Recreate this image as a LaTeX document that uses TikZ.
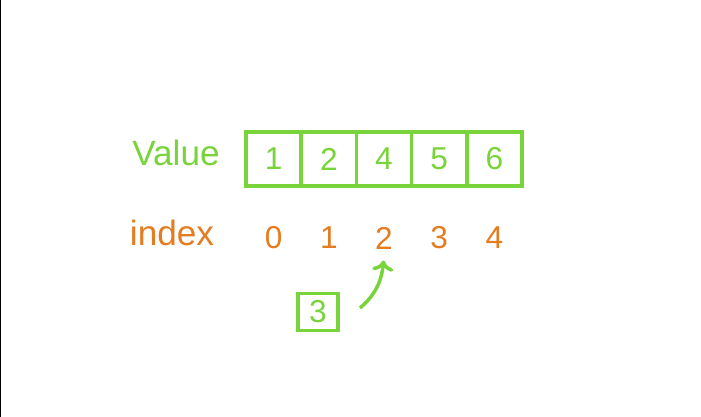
\documentclass[tikz,border=0pt]{standalone}
\usepackage{fontspec}
\setmainfont{Liberation Sans}
\usetikzlibrary{arrows.meta}
\definecolor{valgreen}{RGB}{120,212,58}
\definecolor{idxorange}{RGB}{228,124,34}
\tikzset{
  cell/.style={draw=valgreen,line width=2pt,minimum width=1.104cm,minimum height=1.08cm,inner sep=0pt,text=valgreen,font=\fontsize{18}{20}\selectfont},
  idx/.style={text=idxorange,font=\fontsize{18}{20}\selectfont},
  lbl/.style={font=\fontsize{20}{24}\selectfont}
}
\begin{document}
\begin{tikzpicture}
\useasboundingbox (0,0) rectangle (14.02,8.34);
\draw[black,line width=0.02cm] (0.01,0) -- (0.01,8.34);
\node[lbl,text=valgreen]   (value) at (3.52,5.28) {Value};
\node[lbl,text=idxorange]  (index) at (3.44,3.68) {index};
\foreach \v [count=\i from 0] in {1,2,4,5,6}{
  \node[cell] (v\i) at (5.472+1.104*\i,5.16) {\v};
  \node[idx]  (i\i) at (5.472+1.104*\i,3.58) {\i};
}
\node[cell,minimum width=0.8cm,minimum height=0.74cm] (new) at (6.36,2.1) {3};
\coordinate (a) at (7.2,2.18);
\draw[-{To[length=6pt,width=12pt]},valgreen,line width=2pt,shorten >=3pt] (a) to[out=40,in=-95] (i2.south);
\end{tikzpicture}
\end{document}
